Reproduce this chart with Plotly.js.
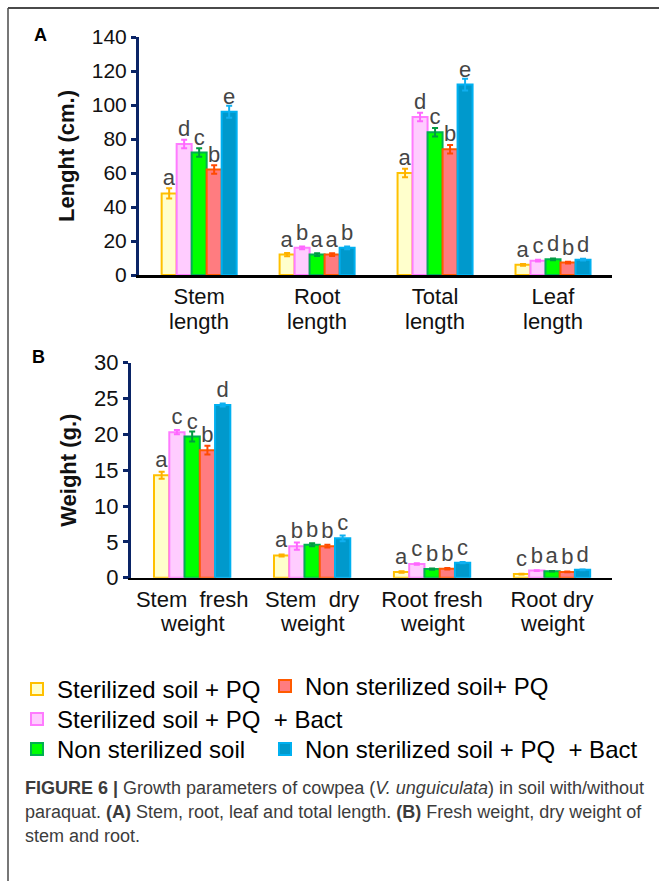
<!DOCTYPE html>
<html>
<head>
<meta charset="utf-8">
<script src="https://cdn.plot.ly/plotly-3.0.1.min.js"></script>
<style>
html,body{margin:0;padding:0;background:#fff;}
#chart{width:659px;height:881px;}
</style>
</head>
<body>
<div id="chart"></div>
<script>
// ---------- data ----------
const seriesNames = [
  'Sterilized soil + PQ',
  'Sterilized soil + PQ\u00a0\u00a0+ Bact',
  'Non sterilized soil',
  'Non sterilized soil+ PQ',
  'Non sterilized soil + PQ\u00a0\u00a0+ Bact'
];

// Panel A: length (cm)
const catsA      = ['Stem length', 'Root length', 'Total length', 'Leaf length'];
const catsALine1 = ['Stem', 'Root', 'Total', 'Leaf'];
const catsALine2 = ['length', 'length', 'length', 'length'];
const lenSterPQ      = [48, 12, 60, 6];
const lenSterPQBact  = [77, 16, 93, 8.4];
const lenNonSter     = [72, 12, 84, 9.2];
const lenNonSterPQ   = [62, 12, 74, 7.3];
const lenNonSterPQBact = [96, 16, 112, 9];

const errSterPQ      = [3, 1, 2.5, 0.5];
const errSterPQBact  = [2.5, 0.8, 2.5, 0.5];
const errNonSter     = [2.5, 0.8, 2.5, 0.5];
const errNonSterPQ   = [2.5, 0.8, 2.5, 0.5];
const errNonSterPQBact = [3.5, 0.8, 3.5, 0.5];

const letSterPQ      = ['a', 'a', 'a', 'a'];
const letSterPQBact  = ['d', 'b', 'd', 'c'];
const letNonSter     = ['c', 'a', 'c', 'd'];
const letNonSterPQ   = ['b', 'a', 'b', 'b'];
const letNonSterPQBact = ['e', 'b', 'e', 'd'];

// Panel B: weight (g)
const catsB      = ['Stem fresh weight', 'Stem dry weight', 'Root fresh weight', 'Root dry weight'];
const catsBLine1 = ['Stem\u00a0\u00a0fresh', 'Stem\u00a0\u00a0dry', 'Root fresh', 'Root dry'];
const catsBLine2 = ['weight', 'weight', 'weight', 'weight'];
const wSterPQ      = [14.3, 3.1, 0.8, 0.5];
const wSterPQBact  = [20.3, 4.4, 1.9, 1.0];
const wNonSter     = [19.7, 4.6, 1.2, 0.9];
const wNonSterPQ   = [17.8, 4.4, 1.25, 0.8];
const wNonSterPQBact = [24.1, 5.5, 2.1, 1.1];

const ewSterPQ      = [0.5, 0.15, 0.1, 0.05];
const ewSterPQBact  = [0.3, 0.5, 0.1, 0.05];
const ewNonSter     = [0.7, 0.2, 0.1, 0.05];
const ewNonSterPQ   = [0.6, 0.2, 0.1, 0.05];
const ewNonSterPQBact = [0.2, 0.4, 0.1, 0.05];

const lwSterPQ      = ['a', 'a', 'a', 'c'];
const lwSterPQBact  = ['c', 'b', 'c', 'b'];
const lwNonSter     = ['c', 'b', 'b', 'a'];
const lwNonSterPQ   = ['b', 'b', 'b', 'b'];
const lwNonSterPQBact = ['d', 'c', 'c', 'd'];

// ---------- styles ----------
const fills   = ['#FFFFCC', '#FFCCFF', '#00FF00', '#FF7C80', '#0099CC'];
const borders = ['#FFC000', '#FF7BFF', '#00B050', '#FF5A00', '#00B0F0'];
const errCols = ['#FFB000', '#FF66FF', '#009A40', '#FF4A00', '#10B0F0'];
const legendOf = ['legend', 'legend2', 'legend3', 'legend4', 'legend5'];

const valsA = [lenSterPQ, lenSterPQBact, lenNonSter, lenNonSterPQ, lenNonSterPQBact];
const errsA = [errSterPQ, errSterPQBact, errNonSter, errNonSterPQ, errNonSterPQBact];
const letsA = [letSterPQ, letSterPQBact, letNonSter, letNonSterPQ, letNonSterPQBact];
const valsB = [wSterPQ, wSterPQBact, wNonSter, wNonSterPQ, wNonSterPQBact];
const errsB = [ewSterPQ, ewSterPQBact, ewNonSter, ewNonSterPQ, ewNonSterPQBact];
const letsB = [lwSterPQ, lwSterPQBact, lwNonSter, lwNonSterPQ, lwNonSterPQBact];

const FONT = 'Liberation Sans, Arial, sans-serif';
const traces = [];
function addPanel(cats, vals, errs, lets, xa, ya, showLeg) {
  for (let i = 0; i < 5; i++) {
    traces.push({
      type: 'bar', x: cats, y: vals[i], name: seriesNames[i],
      xaxis: xa, yaxis: ya,
      marker: {color: fills[i], line: {color: borders[i], width: 2}},
      error_y: {type: 'data', array: errs[i], visible: true, color: errCols[i], thickness: 2, width: 3},
      text: lets[i], textposition: 'outside', cliponaxis: false, constraintext: 'none',
      textfont: {family: FONT, size: 22, color: '#454545'},
      showlegend: showLeg, legend: legendOf[i],
      hoverinfo: 'skip'
    });
  }
}
addPanel(catsA, valsA, errsA, letsA, 'x', 'y', true);
addPanel(catsB, valsB, errsB, letsB, 'x2', 'y2', false);

const W = 659, H = 881;
const px = v => v / W;
const py = v => 1 - v / H;
const NAVY = '#0A2466';
const XR = [-0.51, 3.5];
const XFS = 22;

const yCommon = {
  showgrid: false, zeroline: false, showline: true, linecolor: NAVY, linewidth: 3,
  ticks: 'outside', ticklen: 5, tickwidth: 3, tickcolor: NAVY,
  tickfont: {family: FONT, size: 21, color: '#111'}
};
const xCommon = {
  showgrid: false, zeroline: false, showline: true, linecolor: '#000', linewidth: 2.5,
  ticks: '', type: 'category', range: XR, tickmode: 'array',
  tickfont: {family: FONT, size: XFS, color: '#111'}
};
const legFont = {family: FONT, size: 24, color: '#000'};
const legCommon = {xanchor: 'left', yanchor: 'top', orientation: 'v', font: legFont,
  bgcolor: 'rgba(0,0,0,0)'};

// second line of each category label, placed on the category axis
const line2Ann = [];
catsA.forEach((c, i) => line2Ann.push({xref: 'x', yref: 'paper', x: c, y: py(321), text: catsALine2[i],
  showarrow: false, xanchor: 'center', yanchor: 'middle', font: {family: FONT, size: XFS, color: '#111'}}));
catsB.forEach((c, i) => line2Ann.push({xref: 'x2', yref: 'paper', x: c, y: py(623), text: catsBLine2[i],
  showarrow: false, xanchor: 'center', yanchor: 'middle', font: {family: FONT, size: XFS, color: '#111'}}));

const layout = {
  width: W, height: H,
  margin: {l: 0, r: 0, t: 0, b: 0},
  paper_bgcolor: '#fff', plot_bgcolor: 'rgba(0,0,0,0)',
  barmode: 'group', bargap: 0.364, bargroupgap: 0,
  showlegend: true,
  xaxis: Object.assign({}, xCommon, {domain: [px(139), px(612)], anchor: 'y', tickvals: catsA, ticktext: catsALine1}),
  yaxis: Object.assign({}, yCommon, {domain: [py(275), py(37)], anchor: 'x', range: [0, 140], dtick: 20,
    title: {text: '<b>Lenght (cm.)</b>', font: {family: FONT, size: 22, color: '#111'}, standoff: 12}}),
  xaxis2: Object.assign({}, xCommon, {domain: [px(131), px(612)], anchor: 'y2', tickvals: catsB, ticktext: catsBLine1}),
  yaxis2: Object.assign({}, yCommon, {domain: [py(577.7), py(362.7)], anchor: 'x2', range: [0, 30], dtick: 5,
    tickfont: {family: FONT, size: 22, color: '#111'},
    title: {text: '<b>Weight (g.)</b>', font: {family: FONT, size: 22, color: '#111'}, standoff: 12}}),
  legend:  Object.assign({}, legCommon, {x: px(17), y: py(667)}),
  legend2: Object.assign({}, legCommon, {x: px(17), y: py(697)}),
  legend3: Object.assign({}, legCommon, {x: px(17), y: py(727)}),
  legend4: Object.assign({}, legCommon, {x: px(265), y: py(664)}),
  legend5: Object.assign({}, legCommon, {x: px(265), y: py(727)}),
  annotations: line2Ann.concat([
    {xref: 'paper', yref: 'paper', x: px(40), y: py(35), text: '<b>A</b>', showarrow: false,
      font: {family: FONT, size: 18, color: '#000'}, xanchor: 'center', yanchor: 'middle'},
    {xref: 'paper', yref: 'paper', x: px(38), y: py(357), text: '<b>B</b>', showarrow: false,
      font: {family: FONT, size: 18, color: '#000'}, xanchor: 'center', yanchor: 'middle'},
    {xref: 'paper', yref: 'paper', x: px(23), y: py(788), xanchor: 'left', yanchor: 'middle', showarrow: false,
      text: '<b>FIGURE 6 |</b> Growth parameters of cowpea (<i>V. unguiculata</i>) in soil with/without',
      font: {family: FONT, size: 18, color: '#3c3c3c'}},
    {xref: 'paper', yref: 'paper', x: px(23), y: py(812), xanchor: 'left', yanchor: 'middle', showarrow: false,
      text: 'paraquat. <b>(A)</b> Stem, root, leaf and total length. <b>(B)</b> Fresh weight, dry weight of',
      font: {family: FONT, size: 18, color: '#3c3c3c'}},
    {xref: 'paper', yref: 'paper', x: px(23), y: py(836), xanchor: 'left', yanchor: 'middle', showarrow: false,
      text: 'stem and root.',
      font: {family: FONT, size: 18, color: '#3c3c3c'}}
  ]),
  shapes: [
    {type: 'line', xref: 'paper', yref: 'paper', x0: px(8), x1: px(8), y0: 0, y1: py(8),
      line: {color: '#4a4a4a', width: 1.5}},
    {type: 'line', xref: 'paper', yref: 'paper', x0: px(8), x1: 1, y0: py(8), y1: py(8),
      line: {color: '#4a4a4a', width: 2}}
  ]
};

Plotly.newPlot('chart', traces, layout, {displayModeBar: false, staticPlot: true});
</script>
</body>
</html>
